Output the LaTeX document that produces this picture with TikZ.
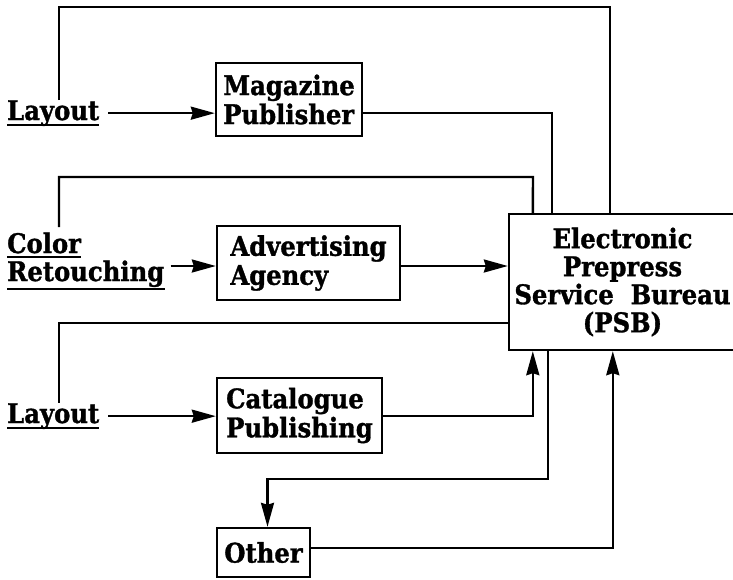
\documentclass[tikz,border=0pt]{standalone}
\usepackage{fontspec}
\setmainfont{DejaVu Serif}[FakeStretch=0.9, BoldFeatures={FakeBold=1.2}]
\usetikzlibrary{arrows.meta}
\begin{document}
\begin{tikzpicture}[x=1pt,y=-1pt,
  lab/.style={font=\fontsize{27}{28}\selectfont\bfseries, inner sep=0pt, anchor=base west},
  box/.style={draw, line width=2.4pt, font=\fontsize{27}{29}\selectfont\bfseries, align=left, inner sep=0pt},
  wire/.style={line width=2.4pt},
  uline/.style={line width=2pt},
  arr/.style={wire, -{Stealth[length=24pt,width=13pt,inset=2pt]}}]
\useasboundingbox (0,0) rectangle (733,579);

% nodes
\node[lab] (lay1) at (7,120) {Layout};
\node[box, minimum width=146pt, minimum height=73pt] (mag) at (289,99.5) {Magazine\\Publisher};
\node[lab] (col1) at (7,253) {Color};
\node[lab] (col2) at (7,281) {Retouching};
\node[box, minimum width=183pt, minimum height=74pt] (adv) at (308.5,263) {Advertising\\Agency};
\node[lab] (lay2) at (7,423) {Layout};
\node[box, minimum width=165pt, minimum height=75pt] (cat) at (299.5,415.5) {Catalogue\\Publishing};
\node[box, minimum width=93pt, minimum height=49pt] (oth) at (263.5,552.5) {Other};
\node[box, minimum width=227pt, minimum height=136pt, align=center, font=\fontsize{27}{28}\selectfont\bfseries] (psb) at (622.5,282) {Electronic\\Prepress\\Service\ \ Bureau\\(PSB)};

% underlines
\draw[uline] ([yshift=-5pt]lay1.base west) -- ([yshift=-5pt]lay1.base east);
\draw[uline] ([yshift=-4pt]col1.base west) -- ([yshift=-4pt]col1.base east);
\draw[uline] ([yshift=-8pt]col2.base west) -- ([yshift=-8pt]col2.base east);
\draw[uline] ([yshift=-5pt]lay2.base west) -- ([yshift=-5pt]lay2.base east);

% connectors
\draw[wire] (lay1.north -| 59,0) |- (610,7) -- (psb.north -| 610,0);
\draw[arr, shorten <=9pt] (lay1.east) -- (lay1.east -| mag.west);
\draw[wire] (mag.east |- lay1.east) -| ([xshift=44pt]psb.north west);
\draw[wire] (59,227) |- (533,177) -- ([xshift=25pt]psb.north west);
\draw[arr, shorten <=6pt] (col2.east |- 0,266) -- (adv.west |- 0,266);
\draw[arr] (adv.east |- 0,266) -- (psb.west |- 0,266);
\draw[wire] (psb.west |- 0,323) -| (lay2.north -| 59,0);
\draw[arr, shorten <=9pt] (lay2.east) -- (lay2.east -| cat.west);
\draw[arr] (cat.east |- lay2.east) -| ([xshift=25pt]psb.south west);
\draw[arr] ([xshift=40pt]psb.south west) -- ++(0,128) -| ([xshift=4pt]oth.north);
\draw[arr] (oth.east |- 0,548) -| ([xshift=105pt]psb.south west);
\end{tikzpicture}
\end{document}
